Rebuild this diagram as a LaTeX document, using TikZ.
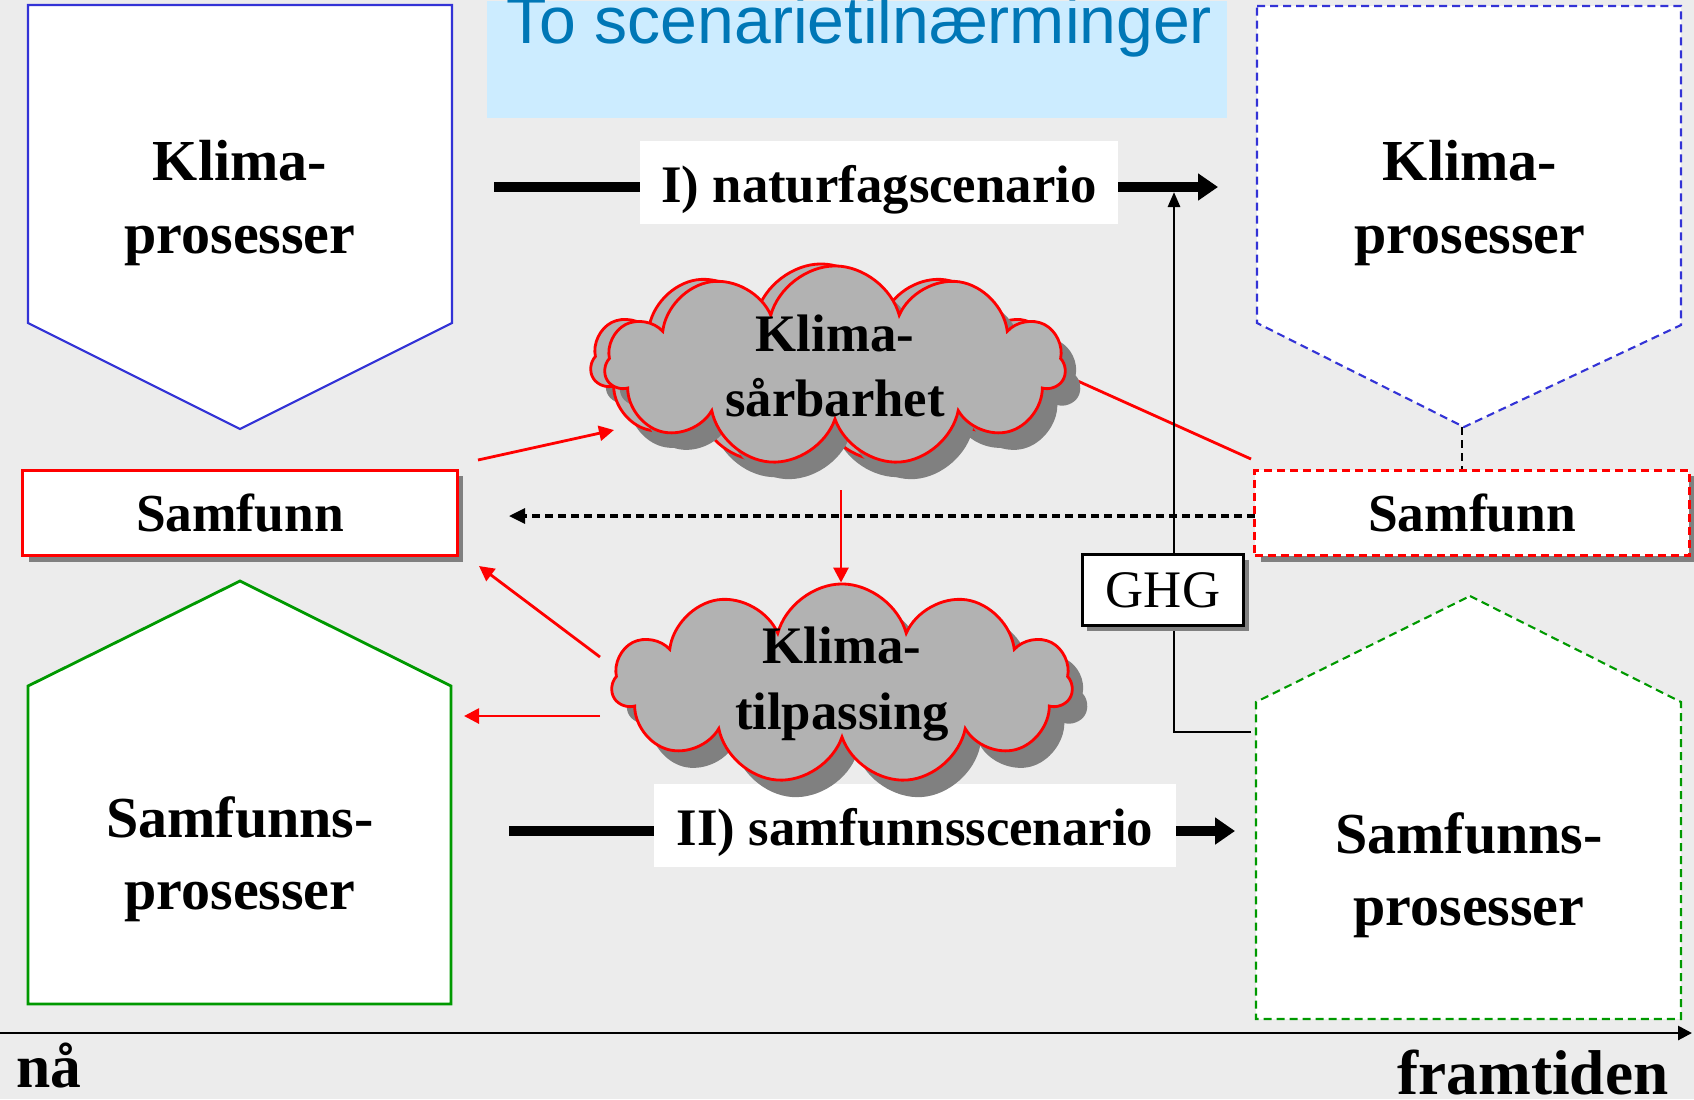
\documentclass[tikz,border=0pt]{standalone}
\usepackage{fontspec}
\setmainfont{Liberation Serif}
\newfontfamily\titlefont{Liberation Sans}
\usepackage{tikz}
\usetikzlibrary{positioning}
\usetikzlibrary{shapes.symbols}
\usetikzlibrary{shadows}
\usetikzlibrary{arrows.meta}

\definecolor{bggray}{RGB}{236,236,236}
\definecolor{titlebg}{RGB}{204,236,255}
\definecolor{titleblue}{RGB}{0,119,182}
\definecolor{klimablue}{RGB}{51,51,214}
\definecolor{samgreen}{RGB}{0,153,0}
\definecolor{cloudgray}{RGB}{178,178,178}
\definecolor{shadowgray}{RGB}{128,128,128}

\tikzset{
  procbox/.style={fill=white, line width=0.6pt},
  proctext/.style={font=\fontsize{16.5}{20.5}\selectfont\bfseries, align=center},
  dashes/.style={dash pattern=on 0.08cm off 0.05cm},
  samfunnbox/.style={draw=red, fill=white, line width=0.9pt,
    minimum width=4.34cm, minimum height=0.85cm,
    font=\fontsize{15.2}{18}\selectfont\bfseries,
    drop shadow={shadow xshift=0.06cm, shadow yshift=-0.06cm, fill=shadowgray, opacity=1}},
  sky/.style={cloud, cloud puffs=11, cloud ignores aspect, draw=red, line width=0.8pt,
    fill=cloudgray, minimum width=4.6cm, minimum height=2.0cm,
    inner xsep=2pt, inner ysep=-7pt, align=center,
    font=\fontsize{15}{18.5}\selectfont\bfseries,
    drop shadow={shadow xshift=0.15cm, shadow yshift=-0.17cm, fill=shadowgray, opacity=1}},
  scenario/.style={fill=white, inner sep=0pt, text height=0.61cm, text depth=0.22cm,
    font=\fontsize{15}{18}\selectfont\bfseries},
  bigarrow/.style={line width=2.6pt, -{Triangle[length=0.2cm, width=0.26cm]}},
  redarrow/.style={draw=red, line width=0.8pt, -{Triangle[length=0.15cm, width=0.15cm]}},
}

\begin{document}
\begin{tikzpicture}[x=0.01cm, y=-0.01cm]
  % background and frame
  \fill[bggray] (0,0) rectangle (1694,1099);
  \useasboundingbox (0,0) rectangle (1694,1099);

  % title
  \node (title) [fill=titlebg, anchor=north west, minimum width=7.4cm, minimum height=1.17cm, inner sep=0pt] at (486,0) {};
  \node (titletext) [anchor=base west, inner sep=0pt, text=titleblue,
    font=\titlefont\fontsize{18.8}{22}\selectfont] at (506,43) {To scenarietilnærminger};

  % process boxes, now
  \draw[procbox, draw=klimablue] (28,5) -- (452,5) -- (452,323) -- (240,429) -- (28,323) -- cycle;
  \node (klimaL) [proctext] at (240,203) {Klima-\\prosesser};
  \draw[procbox, draw=samgreen, line width=0.8pt] (240,581) -- (451,686) -- (451,1004) -- (28,1004) -- (28,686) -- cycle;
  \node (samfL) [proctext] at (240,859) {Samfunns-\\prosesser};

  % process boxes, future
  \draw[procbox, draw=klimablue, dashes] (1257,6) -- (1681,6) -- (1681,325) -- (1464,427) -- (1257,323) -- cycle;
  \node (klimaR) [proctext] at (1470,203) {Klima-\\prosesser};
  \draw[procbox, draw=samgreen, dashes] (1470,596) -- (1681,702) -- (1681,1019) -- (1256,1019) -- (1256,702) -- cycle;
  \node (samfR) [proctext] at (1469,875) {Samfunns-\\prosesser};

  % connectors
  \coordinate (kpoint) at (1462,427);
  \coordinate (dashend) at (509,516);
  \coordinate (redstart) at (1000,346);
  \coordinate (redend) at (1251,459);
  \coordinate (ghgfoot) at (1251,732);
  \coordinate (ghgtip) at (1174,192);
  \coordinate (istart) at (494,187);
  \coordinate (iend) at (1218,187);
  \coordinate (iistart) at (509,831);
  \coordinate (iiend) at (1235,831);

  \draw[dashes, line width=0.8pt] (kpoint) -- (1462,471);
  \draw[dashes, line width=0.9pt, -{Triangle[length=0.16cm, width=0.15cm]}] (1255,516) -- (dashend);
  \draw[red, line width=0.8pt] (redstart) -- (redend);
  \draw[line width=0.8pt, -{Triangle[length=0.15cm, width=0.12cm]}] (ghgfoot) -- (1174,732) -- (ghgtip);

  \draw[bigarrow] (istart) -- (iend);
  \draw[bigarrow] (iistart) -- (iiend);
  \node (scenI) [scenario, minimum width=4.78cm, anchor=base] at (879,202) {I) naturfagscenario};
  \node (scenII) [scenario, minimum width=5.21cm, anchor=base] at (915,845) {II) samfunnsscenario};

  % clouds
  \node (sarbarB) [sky] at (821,364) {\phantom{Klima-}\\\phantom{sårbarhet}};
  \node (sarbar) [sky] at (835,366) {Klima-\\sårbarhet};
  \node (tilpas) [sky] at (842,684) {Klima-\\tilpassing};

  \coordinate (ra) at (478,460);
  \coordinate (rat) at (614,430);
  \coordinate (rb) at (600,657);
  \coordinate (rbt) at (479,566);
  \coordinate (rc) at (600,716);
  \coordinate (rct) at (464,716);
  \draw[redarrow] (ra) -- (rat);
  \draw[redarrow] (rb) -- (rbt);
  \draw[redarrow] (rc) -- (rct);
  \draw[redarrow] (841,490) -- (tilpas.north -| 841,0);

  % society boxes and GHG
  \node (samL) [samfunnbox] at (240,513) {Samfunn};
  \node (samR) [samfunnbox, dashes] at (1472,513) {Samfunn};
  \node (ghg) [draw, fill=white, line width=0.8pt, minimum width=1.61cm, minimum height=0.71cm,
    font=\fontsize{15}{18}\selectfont,
    drop shadow={shadow xshift=0.05cm, shadow yshift=-0.05cm, fill=shadowgray, opacity=1}] at (1163,590) {GHG};

  % time axis
  \draw[line width=0.8pt, -{Triangle[length=0.14cm, width=0.14cm]}] (0,1033) -- (1692,1033);
  \node (naa) [anchor=base west, inner sep=0pt, font=\fontsize{17.5}{20}\selectfont\bfseries] at (16,1087) {nå};
  \node (fram) [anchor=base east, inner sep=0pt, font=\fontsize{18}{20}\selectfont\bfseries] at (1669,1094) {framtiden};
\end{tikzpicture}
\end{document}
